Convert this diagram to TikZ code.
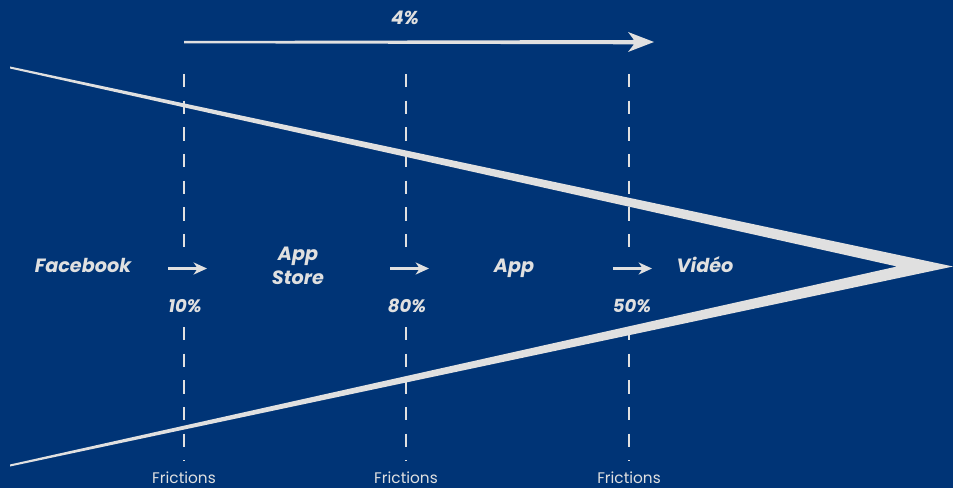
\documentclass[tikz,border=0pt]{standalone}
\usepackage{fontspec}
\setmainfont{Poppins}
\usetikzlibrary{arrows.meta}

\definecolor{bgblue}{RGB}{0,52,118}
\definecolor{lightgrey}{RGB}{224,224,224}

\tikzset{
    stage/.style={text=lightgrey, anchor=base, align=center,
        font=\fontsize{14.4}{17.5}\selectfont\bfseries\itshape},
    rate/.style={text=lightgrey, anchor=base,
        font=\fontsize{13.5}{14}\selectfont\bfseries\itshape},
    fricl/.style={text=lightgrey, anchor=base, font=\fontsize{11.5}{12}\selectfont},
    fric/.style={draw=lightgrey, line width=1.1pt, dash pattern=on 10pt off 10pt},
    hop/.style={draw=lightgrey, line width=1.6pt,
        -{Stealth[length=10pt, width=9pt, inset=3pt]}}
}

\begin{document}
\begin{tikzpicture}[x=0.75pt, y=-0.75pt]
    \fill[bgblue] (0,0) rectangle (953,488);
    \useasboundingbox (0,0) rectangle (953,488);

    % funnel
    \fill[lightgrey] (10,66.5) -- (953,266.5) -- (10,466.5) -- (10,464.5)
        -- (897,266.5) -- (10,68.5) -- cycle;

    % overall rate
    \fill[lightgrey] (184,41) -- (634,40) -- (628,32) -- (654,42)
        -- (628,52) -- (634,44.3) -- (184,43.3) -- cycle;
    \node[rate, font=\fontsize{14}{15}\selectfont\bfseries\itshape] (total) at (405,25) {4\%};

    \foreach \x in {184, 406, 629} {
        \draw[fric] (\x,74) -- (\x,247);
        \draw[fric] (\x,327) -- (\x,461);
        \node[fricl] (fr\x) at (\x,483.5) {Frictions};
    }

    \node[stage] (facebook) at (83,273) {Facebook};
    \node[stage, anchor=center] (store) at (298,266) {App\\Store};
    \node[stage] (app) at (514,273) {App};
    \node[stage] (video) at (705,273) {Vidéo};

    \node[rate] (r1) at (185,313) {10\%};
    \node[rate] (r2) at (407,313) {80\%};
    \node[rate] (r3) at (632,313) {50\%};

    \coordinate (h1a) at (168,268.5);
    \coordinate (h1b) at (207,268.5);
    \coordinate (h2a) at (390,268.5);
    \coordinate (h2b) at (429,268.5);
    \coordinate (h3a) at (613,268.5);
    \coordinate (h3b) at (652,268.5);
    \foreach \i in {1, 2, 3}
        \draw[hop] (h\i a) -- (h\i b);
\end{tikzpicture}
\end{document}
